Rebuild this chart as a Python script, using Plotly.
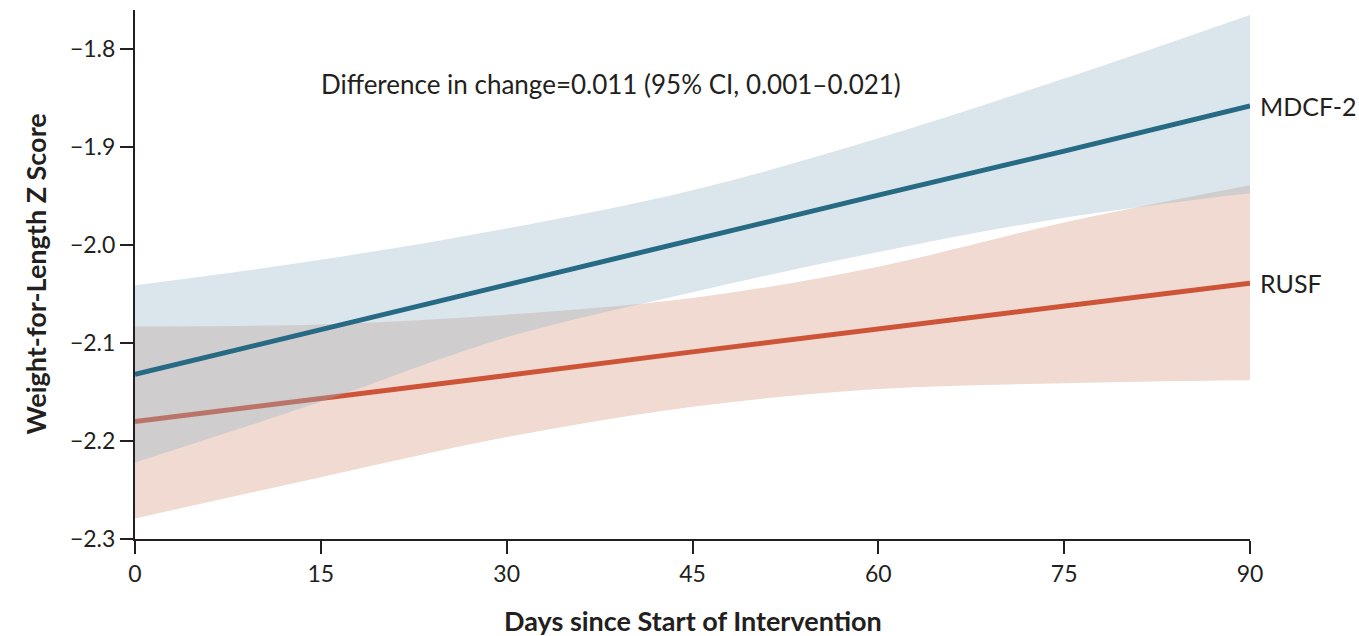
import plotly.graph_objects as go

# Data
days = [0, 15, 30, 45, 60, 75, 90]

mdcf_mean = [-2.132, -2.086, -2.041, -1.995, -1.949, -1.904, -1.858]
mdcf_upper = [-2.041, -2.015, -1.983, -1.944, -1.891, -1.830, -1.765]
mdcf_lower = [-2.222, -2.160, -2.094, -2.048, -2.007, -1.972, -1.947]

rusf_mean = [-2.180, -2.157, -2.133, -2.109, -2.086, -2.062, -2.039]
rusf_upper = [-2.083, -2.081, -2.071, -2.054, -2.022, -1.977, -1.939]
rusf_lower = [-2.279, -2.237, -2.196, -2.165, -2.147, -2.141, -2.138]

x_ticks = [0, 15, 30, 45, 60, 75, 90]
y_ticks = [-2.3, -2.2, -2.1, -2.0, -1.9, -1.8]
y_ticklabels = ["\u22122.3", "\u22122.2", "\u22122.1", "\u22122.0", "\u22121.9", "\u22121.8"]

series_labels = ["MDCF-2", "RUSF"]
annotation_text = "Difference in change=0.011 (95% CI, 0.001\u20130.021)"
x_title = "Days since Start of Intervention"
y_title = "Weight-for-Length Z Score"

BLUE = "#276a84"
ORANGE = "#cd5437"
BLUE_FILL = "rgba(149,181,201,0.35)"
ORANGE_FILL = "#f0dad1"
TEXT = "#231f20"
FONT = "Lato"

fig = go.Figure()

# RUSF band
fig.add_trace(go.Scatter(x=days, y=rusf_lower, mode="lines", line=dict(width=0, shape="spline"),
                         showlegend=False, hoverinfo="skip"))
fig.add_trace(go.Scatter(x=days, y=rusf_upper, mode="lines", line=dict(width=0, shape="spline"),
                         fill="tonexty", fillcolor=ORANGE_FILL, showlegend=False, hoverinfo="skip"))
# RUSF line
fig.add_trace(go.Scatter(x=days, y=rusf_mean, mode="lines", line=dict(color=ORANGE, width=5),
                         name=series_labels[1], showlegend=False))
# MDCF-2 band
fig.add_trace(go.Scatter(x=days, y=mdcf_lower, mode="lines", line=dict(width=0, shape="spline"),
                         showlegend=False, hoverinfo="skip"))
fig.add_trace(go.Scatter(x=days, y=mdcf_upper, mode="lines", line=dict(width=0, shape="spline"),
                         fill="tonexty", fillcolor=BLUE_FILL, showlegend=False, hoverinfo="skip"))
# MDCF-2 line
fig.add_trace(go.Scatter(x=days, y=mdcf_mean, mode="lines", line=dict(color=BLUE, width=5),
                         name=series_labels[0], showlegend=False))

annotations = [
    dict(x=days[-1], y=mdcf_mean[-1], xref="x", yref="y", text=series_labels[0], showarrow=False,
         xanchor="left", yanchor="middle", xshift=8, font=dict(size=25, color=TEXT, family=FONT)),
    dict(x=days[-1], y=rusf_mean[-1], xref="x", yref="y", text=series_labels[1], showarrow=False,
         xanchor="left", yanchor="middle", xshift=8, font=dict(size=25, color=TEXT, family=FONT)),
    dict(x=14.85, y=-1.836, xref="x", yref="y", text=annotation_text, showarrow=False,
         xanchor="left", yanchor="middle", font=dict(size=26, color=TEXT, family=FONT)),
    dict(x=0.5, y=0, xref="paper", yref="paper", text="<b>" + x_title + "</b>", showarrow=False,
         xanchor="center", yanchor="middle", yshift=-81, font=dict(size=27, color=TEXT, family=FONT)),
    dict(x=0, y=0.5, xref="paper", yref="paper", text="<b>" + y_title + "</b>", showarrow=False,
         xanchor="center", yanchor="middle", xshift=-100, textangle=-90,
         font=dict(size=27, color=TEXT, family=FONT)),
]

fig.update_layout(
    width=1359, height=636,
    margin=dict(l=135, r=109, t=10, b=97),
    paper_bgcolor="white", plot_bgcolor="white",
    font=dict(family=FONT, color=TEXT, size=22),
    annotations=annotations,
    xaxis=dict(range=[0, 90], tickvals=x_ticks, ticktext=[str(v) for v in x_ticks],
               showgrid=False, zeroline=False, showline=True, linecolor=TEXT, linewidth=2,
               ticks="outside", ticklen=13, tickwidth=2, tickcolor=TEXT,
               tickfont=dict(size=23, color=TEXT, family=FONT)),
    yaxis=dict(range=[-2.3, -1.76], tickvals=y_ticks, ticktext=y_ticklabels,
               showgrid=False, zeroline=False, showline=True, linecolor=TEXT, linewidth=2,
               ticks="outside", ticklen=13, tickwidth=2, tickcolor=TEXT,
               tickfont=dict(size=23, color=TEXT, family=FONT)),
)

# remove the default page margin so the figure fills the window exactly
fig.write_html("out.html", config={"displayModeBar": False},
               post_script="document.body.style.margin='0';document.body.style.overflow='hidden';")
